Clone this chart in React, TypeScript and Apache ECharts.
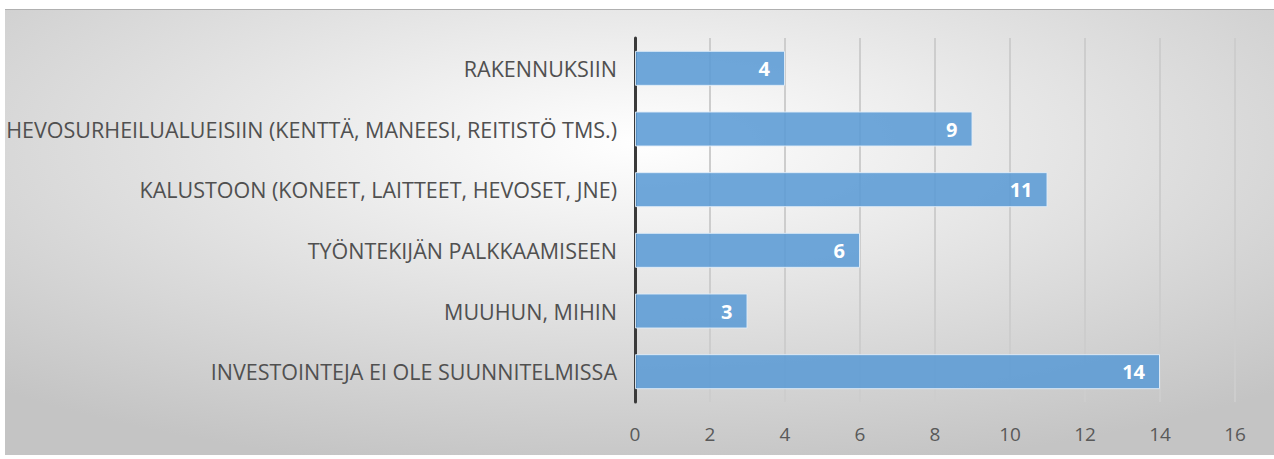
import React, { useEffect, useRef } from "react";
import * as echarts from "echarts";

const categories = [
  "INVESTOINTEJA EI OLE SUUNNITELMISSA",
  "MUUHUN, MIHIN",
  "TYÖNTEKIJÄN PALKKAAMISEEN",
  "KALUSTOON (KONEET, LAITTEET, HEVOSET, JNE)",
  "HEVOSURHEILUALUEISIIN (KENTTÄ, MANEESI, REITISTÖ TMS.)",
  "RAKENNUKSIIN",
];
const values = [14, 3, 6, 11, 9, 4];
const axisMin = 0;
const axisMax = 16;
const axisStep = 2;

const FONT = "'Open Sans', sans-serif";

export default function App() {
  const ref = useRef<HTMLDivElement>(null);
  useEffect(() => {
    if (!ref.current) return;
    const chart = echarts.init(ref.current, undefined, { renderer: "svg" });
    chart.setOption({
      animation: false,
      backgroundColor: {
        type: "radial",
        x: 0.5,
        y: 0.3,
        r: 0.75,
        colorStops: [
          { offset: 0, color: "#ffffff" },
          { offset: 1, color: "#c4c4c4" },
        ],
      },
      graphic: [
        {
          type: "line",
          shape: { x1: 0, y1: 0.5, x2: 1269, y2: 0.5 },
          style: { stroke: "#b0b0b0", lineWidth: 1 },
        },
      ],
      grid: {
        left: 630,
        right: 39,
        top: 29,
        bottom: 53,
        containLabel: false,
        outerBoundsMode: "none",
      },
      xAxis: {
        type: "value",
        min: axisMin,
        max: axisMax,
        interval: axisStep,
        axisLine: { show: false },
        axisTick: { show: false },
        splitLine: { show: true, lineStyle: { color: "#cdcdcd", width: 2 } },
        axisLabel: { color: "#595959", fontSize: 19, fontFamily: FONT, margin: 22 },
      },
      yAxis: {
        type: "category",
        data: categories,
        axisLine: { show: true, lineStyle: { color: "#3a3a3a", width: 3 } },
        axisTick: { show: false },
        axisLabel: { color: "#505050", fontSize: 21.5, fontFamily: FONT, margin: 18 },
      },
      series: [
        {
          type: "bar",
          data: values,
          barWidth: 35,
          itemStyle: {
            color: "rgba(91,155,213,0.88)",
            borderColor: "rgba(225,237,248,0.9)",
            borderWidth: 1,
          },
          label: {
            show: true,
            position: "insideRight",
            distance: 15,
            color: "#ffffff",
            fontWeight: "bold",
            fontSize: 20,
            fontFamily: FONT,
          },
        },
      ],
    });
    return () => chart.dispose();
  }, []);
  return (
    <div
      ref={ref}
      style={{ position: "absolute", left: 5, top: 9, width: 1269, height: 446 }}
    />
  );
}
